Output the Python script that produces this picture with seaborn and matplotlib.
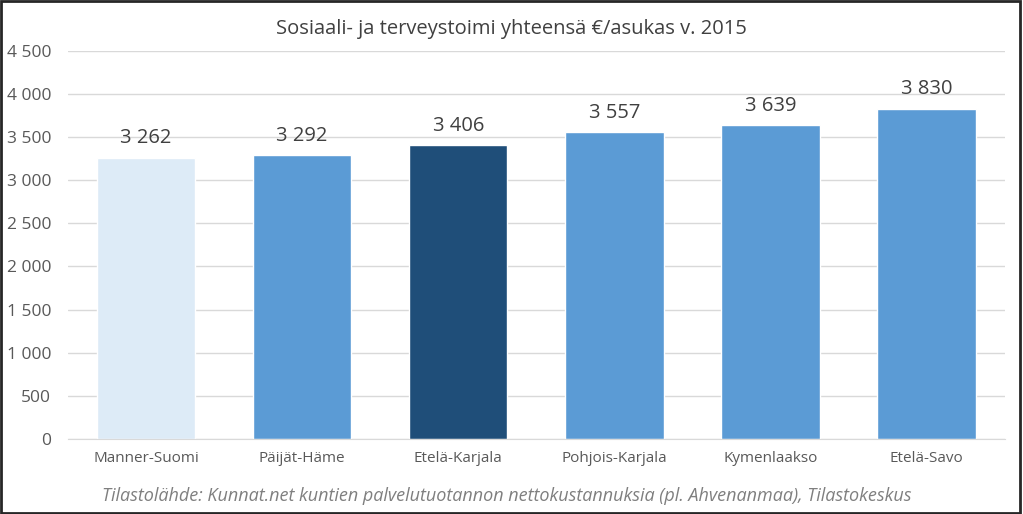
import matplotlib
matplotlib.use("Agg")
import matplotlib.pyplot as plt
import seaborn as sns
import pandas as pd

# Data
regions = ["Manner-Suomi", "Päijät-Häme", "Etelä-Karjala", "Pohjois-Karjala", "Kymenlaakso", "Etelä-Savo"]
values = [3262, 3292, 3406, 3557, 3639, 3830]
bar_colors = ["#DDEBF7", "#5B9BD5", "#1F4E79", "#5B9BD5", "#5B9BD5", "#5B9BD5"]
yticks = [0, 500, 1000, 1500, 2000, 2500, 3000, 3500, 4000, 4500]

df = pd.DataFrame({"Alue": regions, "Euroa": values})

def fmt(v):
    return f"{v:,}".replace(",", " ")

sns.set_style("white")
plt.rcParams["font.family"] = ["Open Sans", "DejaVu Sans"]

fig = plt.figure(figsize=(10.23, 5.14), dpi=100)
ax = fig.add_axes([0.0665, 0.146, 0.9155, 0.755])

sns.barplot(data=df, x="Alue", y="Euroa", hue="Alue", palette=bar_colors,
            legend=False, width=0.63, saturation=1, ax=ax)

for i, v in enumerate(values):
    ax.text(i, v + 110, fmt(v), ha="center", va="bottom", fontsize=14.5, color="#404040")

ax.set_ylim(0, 4500)
ax.set_yticks(yticks)
ax.set_yticklabels([fmt(t) for t in yticks], fontsize=12.5, color="#595959")
ax.tick_params(axis="x", labelsize=11, labelcolor="#595959", length=0, pad=9)
ax.tick_params(axis="y", length=0, pad=12)
ax.yaxis.grid(True, color="#D9D9D9", linewidth=1)
ax.set_axisbelow(True)
ax.set_xlabel("")
ax.set_ylabel("")
for s in ["top", "right", "left"]:
    ax.spines[s].set_visible(False)
ax.spines["bottom"].set_color("#D9D9D9")

fig.text(0.5, 0.943, "Sosiaali- ja terveystoimi yhteensä €/asukas v. 2015",
         ha="center", va="center", fontsize=14.5, color="#404040")
fig.text(0.495, 0.035,
         "Tilastolähde: Kunnat.net kuntien palvelutuotannon nettokustannuksia (pl. Ahvenanmaa), Tilastokeskus",
         ha="center", va="center", fontsize=13, style="italic", color="#7F7F7F")

fig.patches.append(plt.Rectangle((0.001, 0.002), 0.996, 0.996, transform=fig.transFigure,
                                 fill=False, edgecolor="#262626", linewidth=2))

fig.savefig("out.png", dpi=100)
